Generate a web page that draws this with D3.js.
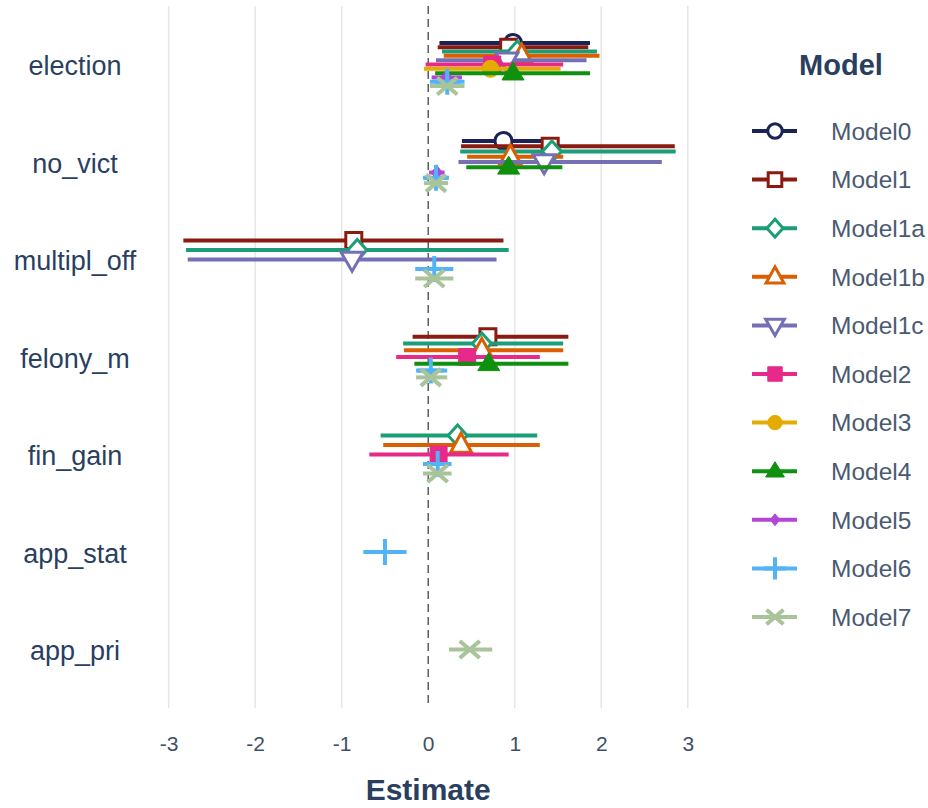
<!DOCTYPE html>
<html>
<head>
<meta charset="utf-8">
<script src="https://cdn.jsdelivr.net/npm/d3@7/dist/d3.min.js"></script>
<style>
  html, body { margin: 0; padding: 0; background: #fff; }
  svg { display: block; font-family: "Liberation Sans", Arial, sans-serif; }
</style>
</head>
<body>
<svg id="chart" width="928" height="808"></svg>
<script>
// ---------------- data ----------------
const terms = ["election", "no_vict", "multipl_off", "felony_m", "fin_gain", "app_stat", "app_pri"];
const models = ["Model0", "Model1", "Model1a", "Model1b", "Model1c", "Model2", "Model3", "Model4", "Model5", "Model6", "Model7"];
const xTicks = [-3, -2, -1, 0, 1, 2, 3];

// estimates per model, in the order of `terms` (null = term not in model)
const est_Model0  = [0.98, 0.87, null, null, null, null, null];
const est_Model1  = [0.93, 1.41, -0.86, 0.69, null, null, null];
const est_Model1a = [1.03, 1.43, -0.82, 0.62, 0.34, null, null];
const est_Model1b = [1.08, 0.95, null, 0.62, 0.38, null, null];
const est_Model1c = [0.91, 1.34, -0.88, null, null, null, null];
const est_Model2  = [0.74, null, null, 0.45, 0.12, null, null];
const est_Model3  = [0.72, null, null, null, null, null, null];
const est_Model4  = [0.98, 0.93, null, 0.70, null, null, null];
const est_Model5  = [0.21, 0.10, null, null, null, null, null];
const est_Model6  = [0.22, 0.09, 0.07, 0.03, 0.11, -0.50, null];
const est_Model7  = [0.22, 0.09, 0.07, 0.03, 0.11, null, 0.48];

// lower bounds of the intervals
const lo_Model0  = [0.13, 0.39, null, null, null, null, null];
const lo_Model1  = [0.11, 0.38, -2.83, -0.18, null, null, null];
const lo_Model1a = [0.16, 0.37, -2.80, -0.29, -0.55, null, null];
const lo_Model1b = [0.18, 0.45, null, -0.28, -0.52, null, null];
const lo_Model1c = [0.09, 0.35, -2.78, null, null, null, null];
const lo_Model2  = [-0.03, null, null, -0.37, -0.68, null, null];
const lo_Model3  = [-0.05, null, null, null, null, null, null];
const lo_Model4  = [0.08, 0.44, null, -0.16, null, null, null];
const lo_Model5  = [0.04, 0.01, null, null, null, null, null];
const lo_Model6  = [0.02, -0.05, -0.15, -0.14, -0.06, -0.75, null];
const lo_Model7  = [0.02, -0.05, -0.15, -0.14, -0.06, null, 0.24];

// upper bounds of the intervals
const hi_Model0  = [1.87, 1.33, null, null, null, null, null];
const hi_Model1  = [1.85, 2.85, 0.87, 1.62, null, null, null];
const hi_Model1a = [1.95, 2.86, 0.93, 1.56, 1.26, null, null];
const hi_Model1b = [1.98, 1.56, null, 1.56, 1.29, null, null];
const hi_Model1c = [1.83, 2.70, 0.79, null, null, null, null];
const hi_Model2  = [1.56, null, null, 1.29, 0.93, null, null];
const hi_Model3  = [1.53, null, null, null, null, null, null];
const hi_Model4  = [1.87, 1.55, null, 1.62, null, null, null];
const hi_Model5  = [0.39, 0.19, null, null, null, null, null];
const hi_Model6  = [0.42, 0.23, 0.29, 0.22, 0.27, -0.25, null];
const hi_Model7  = [0.42, 0.23, 0.29, 0.22, 0.27, null, 0.74];

const estimates = {Model0: est_Model0, Model1: est_Model1, Model1a: est_Model1a, Model1b: est_Model1b, Model1c: est_Model1c,
  Model2: est_Model2, Model3: est_Model3, Model4: est_Model4, Model5: est_Model5, Model6: est_Model6, Model7: est_Model7};
const lows = {Model0: lo_Model0, Model1: lo_Model1, Model1a: lo_Model1a, Model1b: lo_Model1b, Model1c: lo_Model1c,
  Model2: lo_Model2, Model3: lo_Model3, Model4: lo_Model4, Model5: lo_Model5, Model6: lo_Model6, Model7: lo_Model7};
const highs = {Model0: hi_Model0, Model1: hi_Model1, Model1a: hi_Model1a, Model1b: hi_Model1b, Model1c: hi_Model1c,
  Model2: hi_Model2, Model3: hi_Model3, Model4: hi_Model4, Model5: hi_Model5, Model6: hi_Model6, Model7: hi_Model7};

// ---------------- styles ----------------
const colors = {Model0: "#1b2356", Model1: "#8b1a10", Model1a: "#1b9e77", Model1b: "#d95f02", Model1c: "#7570b3",
  Model2: "#e7298a", Model3: "#e6ab02", Model4: "#0f900f", Model5: "#b246d6", Model6: "#52b4f7", Model7: "#a9c39b"};
const shapes = {Model0: "circle-open", Model1: "square-open", Model1a: "diamond-open", Model1b: "triangle-up-open",
  Model1c: "triangle-down-open", Model2: "square", Model3: "circle", Model4: "triangle-up", Model5: "diamond-small",
  Model6: "cross", Model7: "x"};

function markerPath(shape, k) {
  const p = d3.path();
  if (shape.startsWith("circle")) {
    const r = 8.5 * k;
    p.arc(0, 0, r, 0, 2 * Math.PI);
  } else if (shape.startsWith("square")) {
    const s = (shape === "square" ? 8.5 : 8) * k;
    p.rect(-s, -s, 2 * s, 2 * s);
  } else if (shape === "diamond-open") {
    const w = 9.5 * k, h = 10.5 * k;
    p.moveTo(0, -h); p.lineTo(w, 0); p.lineTo(0, h); p.lineTo(-w, 0); p.closePath();
  } else if (shape === "diamond-small") {
    const w = 5.5 * k, h = 7 * k;
    p.moveTo(0, -h); p.lineTo(w, 0); p.lineTo(0, h); p.lineTo(-w, 0); p.closePath();
  } else if (shape.startsWith("triangle-up")) {
    const w = (shape === "triangle-up" ? 11 : 10.5) * k, h = (shape === "triangle-up" ? 18 : 19) * k;
    p.moveTo(0, -h * 0.62); p.lineTo(w, h * 0.38); p.lineTo(-w, h * 0.38); p.closePath();
  } else if (shape.startsWith("triangle-down")) {
    const w = 11 * k, h = 19 * k;
    p.moveTo(0, h * 0.62); p.lineTo(w, -h * 0.38); p.lineTo(-w, -h * 0.38); p.closePath();
  } else if (shape === "cross") {
    const a = 13 * k;
    p.moveTo(0, -a); p.lineTo(0, a); p.moveTo(-a, 0); p.lineTo(a, 0);
  } else if (shape === "x") {
    const a = 10 * k;
    p.moveTo(-a, -a * 0.85); p.lineTo(a, a * 0.85); p.moveTo(-a, a * 0.85); p.lineTo(a, -a * 0.85);
  }
  return p.toString();
}
function styleMarker(sel, m) {
  const shape = shapes[m], c = colors[m];
  if (shape.endsWith("-open")) {
    sel.attr("fill", "#fff").attr("stroke", c).attr("stroke-width", 3);
  } else if (shape === "cross" || shape === "x") {
    sel.attr("fill", "none").attr("stroke", c).attr("stroke-width", 4);
  } else {
    sel.attr("fill", c).attr("stroke", c).attr("stroke-width", 1);
  }
}

// ---------------- layout ----------------
const svg = d3.select("#chart");
const textColor = "#2a3f5f";
const panel = {top: 6, bottom: 708};
const x = d3.scaleLinear().domain([-3.1, 3.13]).range([160, 699]);
const y = d3.scalePoint().domain(terms).range([64.5, 649.5]);
const dodgeWidth = 47.5;

// gridlines
svg.append("g").selectAll("line").data(xTicks.filter(t => t !== 0)).join("line")
  .attr("x1", d => x(d)).attr("x2", d => x(d))
  .attr("y1", panel.top).attr("y2", panel.bottom)
  .attr("stroke", "#e6e6e6").attr("stroke-width", 1.5);

// zero line
svg.append("line")
  .attr("x1", x(0)).attr("x2", x(0)).attr("y1", panel.top).attr("y2", panel.bottom)
  .attr("stroke", "#444").attr("stroke-width", 1.3).attr("stroke-dasharray", "8,5");

// x axis (labels only)
const xAxis = d3.axisBottom(x).tickValues(xTicks).tickSize(0).tickPadding(0).tickFormat(d3.format("d"));
const gx = svg.append("g").attr("transform", "translate(0,736)").call(xAxis);
gx.select(".domain").remove();
gx.selectAll("text").attr("fill", "#3e4f68").attr("font-size", 21).attr("font-family", "Liberation Sans, Arial, sans-serif")
  .text(d => d < 0 ? "-" + Math.abs(d) : d);

svg.append("text").attr("x", x(0)).attr("y", 800).attr("text-anchor", "middle")
  .attr("font-size", 30).attr("font-weight", "bold").attr("fill", textColor).text("Estimate");

// y axis labels (centered)
const yAxis = d3.axisLeft(y).tickSize(0).tickPadding(0);
const gy = svg.append("g").attr("transform", "translate(75,0)").call(yAxis);
gy.select(".domain").remove();
gy.selectAll("text").attr("text-anchor", "middle").attr("x", 0).attr("dy", "0.38em")
  .attr("fill", textColor).attr("font-size", 27).attr("font-family", "Liberation Sans, Arial, sans-serif");

// ---------------- marks ----------------
// dodge positions per term
const dodge = {};
terms.forEach((t, ti) => {
  const present = models.filter(m => estimates[m][ti] !== null);
  present.forEach((m, i) => {
    dodge[m + "|" + t] = ((i + 0.5) / present.length - 0.5) * dodgeWidth;
  });
});

const gData = svg.append("g");
models.forEach(m => {
  const rows = terms.map((t, ti) => ({term: t, est: estimates[m][ti], lo: lows[m][ti], hi: highs[m][ti]}))
    .filter(d => d.est !== null);
  const g = gData.append("g").attr("class", "series");
  g.selectAll("line").data(rows).join("line")
    .attr("x1", d => x(d.lo)).attr("x2", d => x(d.hi))
    .attr("y1", d => y(d.term) + dodge[m + "|" + d.term])
    .attr("y2", d => y(d.term) + dodge[m + "|" + d.term])
    .attr("stroke", colors[m]).attr("stroke-width", 4);
  g.selectAll("path").data(rows).join("path")
    .attr("d", markerPath(shapes[m], 1))
    .attr("transform", d => `translate(${x(d.est)},${y(d.term) + dodge[m + "|" + d.term]})`)
    .call(styleMarker, m);
});

// ---------------- legend ----------------
svg.append("text").attr("x", 841).attr("y", 75).attr("text-anchor", "middle")
  .attr("font-size", 29).attr("font-weight", "bold").attr("fill", textColor).text("Model");
const leg = svg.append("g").selectAll("g").data(models).join("g")
  .attr("transform", (d, i) => `translate(0,${131 + i * 48.6})`);
leg.append("line").attr("x1", 752).attr("x2", 797).attr("y1", 0).attr("y2", 0)
  .attr("stroke", d => colors[d]).attr("stroke-width", 4);
leg.append("path").attr("transform", "translate(775,0)")
  .attr("d", d => markerPath(shapes[d], 0.85))
  .each(function(d) { d3.select(this).call(styleMarker, d); });
leg.append("text").attr("x", 831).attr("y", 0).attr("dy", "0.36em")
  .attr("font-size", 24.5).attr("fill", "#4a5a72").text(d => d);
</script>
</body>
</html>
